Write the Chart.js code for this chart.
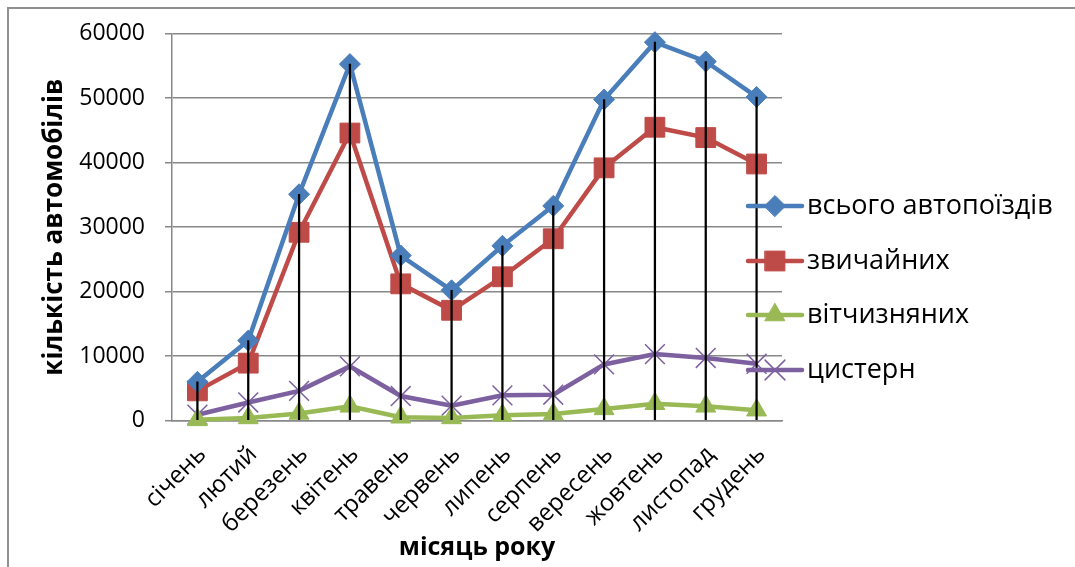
<!DOCTYPE html>
<html>
<head>
<meta charset="utf-8">
<script src="https://cdn.jsdelivr.net/npm/chart.js@4/dist/chart.umd.min.js"></script>
<style>
    body { margin: 0; background: #fff; }
    #wrap { position: relative; width: 1075px; height: 567px; overflow: hidden; }
    #frame { position: absolute; left: 7px; top: 7px; width: 1100px; height: 600px;
             border-top: 2px solid #909090; border-left: 2px solid #909090; }
    #chart__canvas { position: absolute; left: 0; top: 0; }
    .legend__row { position: absolute; left: 744px; height: 32px; white-space: nowrap;
                   font-family: "Open Sans", sans-serif; font-size: 27px; line-height: 32px; color: #000; }
    .legend__row canvas { position: absolute; left: 0; top: 0; }
    .legend__row span { position: absolute; left: 63px; top: -2px; }
</style>
</head>
<body>
<div id="wrap">
    <div id="frame"></div>
    <canvas id="chart__canvas" width="1075" height="567"></canvas>
    <div id="legend"></div>
</div>
<script>
const months = ['січень', 'лютий', 'березень', 'квітень', 'травень', 'червень',
                'липень', 'серпень', 'вересень', 'жовтень', 'листопад', 'грудень'];

const total    = [6000, 12400, 35100, 55300, 25600, 20200, 27100, 33300, 49800, 58700, 55700, 50200];
const ordinary = [4600, 8900, 29200, 44600, 21200, 17100, 22300, 28200, 39200, 45500, 43900, 39800];
const domestic = [100, 400, 1100, 2200, 500, 400, 800, 1000, 1800, 2600, 2200, 1600];
const tankers  = [900, 2800, 4600, 8400, 3800, 2300, 3900, 4000, 8700, 10300, 9700, 8800];

const seriesNames = ['всього автопоїздів', 'звичайних', 'вітчизняних', 'цистерн'];
const yTicks = [0, 10000, 20000, 30000, 40000, 50000, 60000];

const FONT = '"Open Sans", sans-serif';

// colour, marker, radius, marker border width
const styles = [
    { color: '#4A7EBB', point: 'rectRot',  radius: 10.5, pbw: 1 },
    { color: '#BE4B48', point: 'rect',     radius: 14,   pbw: 1 },
    { color: '#98B954', point: 'triangle', radius: 11.5, pbw: 1 },
    { color: '#7D60A0', point: 'crossRot', radius: 14,   pbw: 1.5 },
];

function lineSet(i, data) {
    const s = styles[i];
    return {
        type: 'line',
        label: seriesNames[i],
        data: data,
        order: 1,
        borderColor: s.color,
        backgroundColor: s.color,
        borderWidth: 4.5,
        tension: 0,
        pointStyle: s.point,
        pointRadius: s.radius,
        pointBorderWidth: s.pbw,
        pointBackgroundColor: s.color,
        pointBorderColor: s.color,
        clip: false,
    };
}

let chart = new Chart(document.getElementById('chart__canvas').getContext('2d'), {
    type: 'line',
    data: {
        labels: months,
        datasets: [
            // drop lines from the top series down to zero
            {
                type: 'bar',
                label: 'drop',
                data: total.map(v => [0, v]),
                backgroundColor: '#000',
                barThickness: 1.6,
                order: 0,
            },
            lineSet(0, total),
            lineSet(1, ordinary),
            lineSet(2, domestic),
            lineSet(3, tankers),
        ]
    },
    options: {
        responsive: false,
        animation: false,
        layout: { padding: { left: 39, top: 32, right: 293, bottom: 0 } },
        plugins: {
            legend: { display: false },
            tooltip: { enabled: false },
        },
        scales: {
            x: {
                offset: true,
                grid: { display: false, drawTicks: false },
                border: { display: true, color: '#888', width: 1.5 },
                ticks: {
                    autoSkip: false,
                    maxRotation: 45,
                    minRotation: 45,
                    padding: 20,
                    labelOffset: 5,
                    color: '#000',
                    font: { family: FONT, size: 24 },
                },
                title: {
                    display: true,
                    text: 'місяць року',
                    color: '#000',
                    font: { family: FONT, size: 25, weight: 'bold' },
                    padding: { top: 0, bottom: 4 },
                },
                afterFit: s => { s.height = 146.5; },
            },
            y: {
                min: 0,
                max: 60000,
                afterBuildTicks: s => { s.ticks = yTicks.map(v => ({ value: v })); },
                ticks: {
                    padding: 20,
                    color: '#000',
                    font: { family: FONT, size: 23 },
                    callback: v => String(v),
                },
                grid: { color: '#888', lineWidth: 1.5, tickLength: 7 },
                border: { color: '#888', width: 1.5 },
                title: {
                    display: true,
                    text: 'кількість автомобілів',
                    color: '#000',
                    font: { family: FONT, size: 26, weight: 'bold' },
                    padding: 0,
                },
                afterFit: s => { s.width = 133; },
            }
        }
    }
});

// legend: line with marker, like the spreadsheet one
const legendY = [206, 261, 315, 370];
const legend = document.getElementById('legend');
seriesNames.forEach((name, i) => {
    const s = styles[i];
    const row = document.createElement('div');
    row.className = 'legend__row';
    row.style.top = (legendY[i] - 16) + 'px';
    const c = document.createElement('canvas');
    c.width = 62; c.height = 32;
    const ctx = c.getContext('2d');
    ctx.strokeStyle = s.color;
    ctx.lineWidth = 4.5;
    ctx.lineCap = 'round';
    ctx.beginPath(); ctx.moveTo(4, 16); ctx.lineTo(58, 16); ctx.stroke();
    ctx.fillStyle = s.color;
    ctx.lineWidth = s.pbw;
    Chart.helpers.drawPoint(ctx, { pointStyle: s.point, radius: s.radius, rotation: 0, borderWidth: s.pbw }, 31, 16);
    const t = document.createElement('span');
    t.textContent = name;
    row.appendChild(c);
    row.appendChild(t);
    legend.appendChild(row);
});
</script>
</body>
</html>
